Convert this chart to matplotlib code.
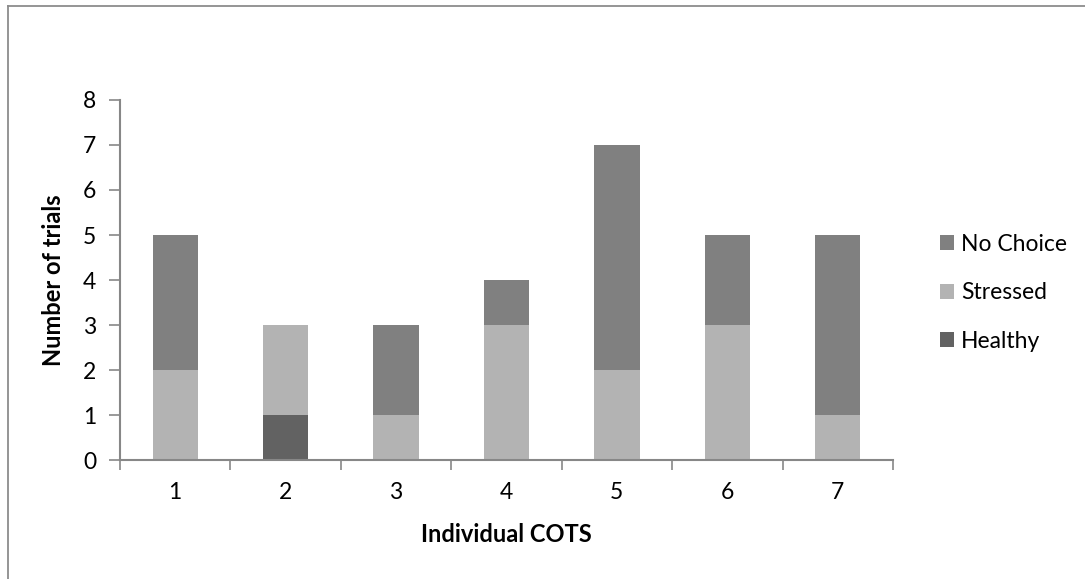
import matplotlib.pyplot as plt
import numpy as np

# data
cots = ['1', '2', '3', '4', '5', '6', '7']
healthy = [0, 1, 0, 0, 0, 0, 0]
stressed = [2, 2, 1, 3, 2, 3, 1]
no_choice = [3, 0, 2, 1, 5, 2, 4]

plt.rcParams['font.family'] = ['Lato', 'DejaVu Sans']

fig = plt.figure(figsize=(10.85, 5.79), dpi=100)
ax = fig.add_axes([0.1106, 0.2055, 0.7124, 0.6218])

x = np.arange(1, len(cots) + 1)
w = 0.41
h = np.array(healthy)
s = np.array(stressed)
n = np.array(no_choice)

b1 = ax.bar(x, h, w, color='#626262', label='Healthy')
b2 = ax.bar(x, s, w, bottom=h, color='#b3b3b3', label='Stressed')
b3 = ax.bar(x, n, w, bottom=h + s, color='#808080', label='No Choice')

gray = '#878787'
ax.set_xlim(0.5, len(cots) + 0.5)
ax.set_ylim(0, 8)
ax.set_yticks(range(0, 9))
ax.set_xticks(x)
ax.set_xticklabels(cots)
ax.set_xticks(np.arange(0.5, len(cots) + 1, 1), minor=True)
ax.tick_params(axis='x', which='major', length=0, pad=16, labelsize=16.5)
ax.tick_params(axis='x', which='minor', length=7, color=gray, width=1.2)
ax.tick_params(axis='y', length=8, color=gray, width=1.2, pad=9, labelsize=16.5)

for side in ['top', 'right']:
    ax.spines[side].set_visible(False)
for side in ['left', 'bottom']:
    ax.spines[side].set_color(gray)
    ax.spines[side].set_linewidth(1.5)

ax.set_xlabel('Individual COTS', fontsize=17, fontweight='bold', labelpad=14)
ax.set_ylabel('Number of trials', fontsize=17, fontweight='bold', labelpad=13)

fig.legend(handles=[b3, b2, b1], loc='center left', bbox_to_anchor=(0.847, 0.494),
           frameon=False, fontsize=16.5, handlelength=0.62, handleheight=0.62,
           handletextpad=0.3, labelspacing=1.2)

# chart area border (only top and left visible in the picture)
fig.add_artist(plt.Line2D([0.0075, 0.0075], [0, 0.9895], color='#8c8c8c', lw=1.3))
fig.add_artist(plt.Line2D([0.0075, 1], [0.9895, 0.9895], color='#8c8c8c', lw=1.3))

fig.savefig('out.png', dpi=100)
